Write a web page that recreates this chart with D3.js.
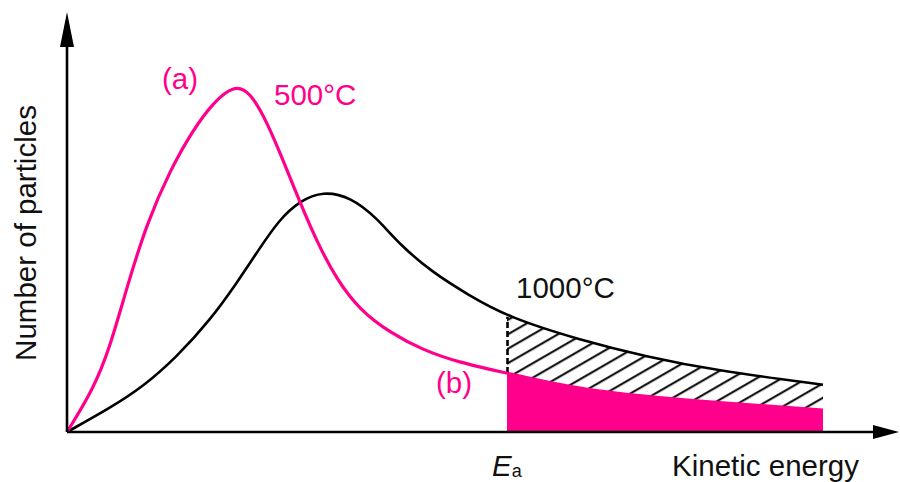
<!DOCTYPE html>
<html>
<head>
<meta charset="utf-8">
<script src="https://cdn.jsdelivr.net/npm/d3@7"></script>
<style>
  body { margin: 0; background: #fff; }
  text { font-family: "Liberation Sans", Arial, sans-serif; }
</style>
</head>
<body>
<div id="chart"></div>
<script>
var width = 900;
var height = 482;

// energy (0-100) vs number of particles (0-100)
var energy500 = [0, 3.25, 5.4, 7.5, 10, 12.9, 15.75, 18.25, 20.9, 22.9, 25, 27, 29.1, 31.25, 33.75, 36.6, 40.4, 44.5, 48.75, 55, 64.1, 76.6, 94.5];
var count500  = [0, 10.5, 21.3, 36.3, 52.3, 65.5, 75.5, 82.3, 86.8, 85, 77.5, 68, 57.5, 47.5, 38, 30.5, 24.8, 20.5, 17.5, 14.75, 10.5, 8, 5.5];
var energy1000 = [0, 5.4, 9.5, 13.75, 17.9, 21.25, 24.1, 26.5, 29.1, 32, 35.4, 38.75, 41.6, 45.75, 50, 55, 64.1, 72.5, 80.75, 94.5];
var count1000  = [0, 6, 11.3, 18.8, 28, 37.3, 46, 53, 57.8, 60.2, 58.8, 53.5, 46.8, 39.8, 34.5, 28.8, 23, 18.8, 15.5, 11.8];
var Ea = 55;
var Emax = 94.5;

var pink = "#ff008c";
var fontSize = 29.5;

var curve500 = energy500.map(function(d, i) { return {e: d, n: count500[i]}; });
var curve1000 = energy1000.map(function(d, i) { return {e: d, n: count1000[i]}; });

var svg = d3.select("#chart").append("svg").attr("width", width).attr("height", height);

var x = d3.scaleLinear().domain([0, 100]).range([67, 867]);
var y = d3.scaleLinear().domain([0, 100]).range([432, 32]);

var defs = svg.append("defs");
defs.append("pattern")
    .attr("id", "hatch")
    .attr("patternUnits", "userSpaceOnUse")
    .attr("width", 12.5).attr("height", 12.5)
    .attr("patternTransform", "rotate(-30)")
  .append("line")
    .attr("x1", 0).attr("x2", 12.5).attr("y1", 6).attr("y2", 6)
    .attr("stroke", "#000").attr("stroke-width", 2);

defs.append("clipPath").attr("id", "tail")
  .append("rect")
    .attr("x", x(Ea)).attr("y", 0)
    .attr("width", x(Emax) - x(Ea)).attr("height", y(0));

var line = d3.line()
    .x(function(d) { return x(d.e); })
    .y(function(d) { return y(d.n); })
    .curve(d3.curveBasis);

var area = d3.area()
    .x(function(d) { return x(d.e); })
    .y0(y(0))
    .y1(function(d) { return y(d.n); })
    .curve(d3.curveBasis);

// hatched part (under 1000 curve), then pink fill (under 500 curve) on top
svg.append("path")
    .datum(curve1000)
    .attr("clip-path", "url(#tail)")
    .attr("fill", "url(#hatch)")
    .attr("d", area);

svg.append("path")
    .datum(curve500)
    .attr("clip-path", "url(#tail)")
    .attr("fill", pink)
    .attr("d", area);

// dashed edge at Ea
svg.append("line")
    .attr("x1", x(Ea) + 0.5).attr("x2", x(Ea) + 0.5)
    .attr("y1", y(count500[energy500.indexOf(Ea)]))
    .attr("y2", y(count1000[energy1000.indexOf(Ea)]))
    .attr("stroke", "#000").attr("stroke-width", 2.6)
    .attr("stroke-dasharray", "6,3");

svg.append("path")
    .datum(curve1000)
    .attr("fill", "none")
    .attr("stroke", "#000")
    .attr("stroke-width", 2.6)
    .attr("d", line);

svg.append("path")
    .datum(curve500)
    .attr("fill", "none")
    .attr("stroke", pink)
    .attr("stroke-width", 3.2)
    .attr("d", line);

// axes with arrow heads
var axes = svg.append("g").attr("stroke", "#000").attr("stroke-width", 2.6);
axes.append("line").attr("x1", x(0)).attr("x2", 880).attr("y1", y(0)).attr("y2", y(0));
axes.append("line").attr("x1", x(0)).attr("x2", x(0)).attr("y1", y(0)).attr("y2", 40);
svg.append("path")
    .attr("d", "M" + 899 + "," + y(0) + "L" + 873 + "," + (y(0) - 7) + "L" + 873 + "," + (y(0) + 7) + "Z")
    .attr("fill", "#000");
svg.append("path")
    .attr("d", "M" + x(0) + "," + 12 + "L" + (x(0) - 7) + "," + 47 + "L" + (x(0) + 7) + "," + 47 + "Z")
    .attr("fill", "#000");

// labels
svg.append("text")
    .attr("transform", "translate(36,233) rotate(-90)")
    .attr("text-anchor", "middle")
    .attr("font-size", fontSize)
    .attr("fill", "#111")
    .text("Number of particles");

svg.append("text")
    .attr("x", 672).attr("y", 476)
    .attr("font-size", fontSize)
    .attr("fill", "#111")
    .text("Kinetic energy");

var ea = svg.append("text")
    .attr("x", 492).attr("y", 476)
    .attr("font-size", fontSize)
    .attr("fill", "#111");
ea.append("tspan").attr("font-style", "italic").text("E");
ea.append("tspan").attr("font-size", 18).attr("dy", 1).text("a");

svg.append("text").attr("x", 162).attr("y", 89).attr("font-size", fontSize).attr("fill", pink).text("(a)");
svg.append("text").attr("x", 274).attr("y", 105).attr("font-size", fontSize).attr("fill", pink).text("500°C");
svg.append("text").attr("x", 436).attr("y", 393).attr("font-size", fontSize).attr("fill", pink).text("(b)");
svg.append("text").attr("x", 516).attr("y", 298).attr("font-size", fontSize).attr("fill", "#111").text("1000°C");
</script>
</body>
</html>
